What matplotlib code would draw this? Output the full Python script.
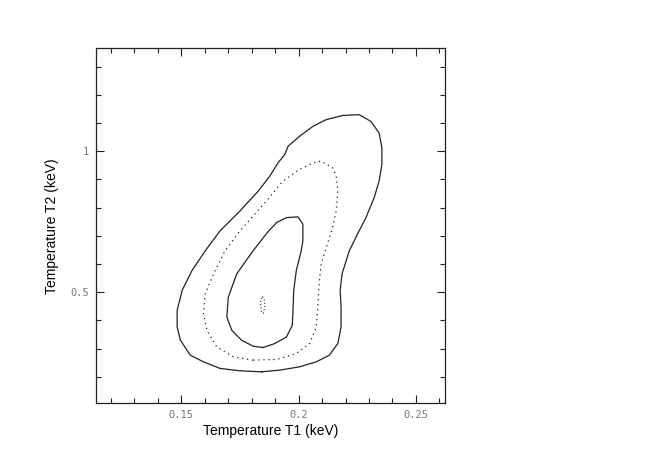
import numpy as np
import matplotlib.pyplot as plt
from matplotlib.ticker import MultipleLocator, FixedLocator, FixedFormatter

# confidence contours (T1, T2 in keV)
outer_t1 = [0.1842, 0.1750, 0.1665, 0.1594, 0.1538, 0.1496, 0.1482, 0.1482, 0.1503, 0.1545,
            0.1602, 0.1665, 0.1750, 0.1828, 0.1877, 0.1912, 0.1941, 0.1955, 0.2004, 0.2061,
            0.2117, 0.2188, 0.2258, 0.2308, 0.2343, 0.2355, 0.2355, 0.2343, 0.2322, 0.2287,
            0.2251, 0.2216, 0.2185, 0.2177, 0.2181, 0.2181, 0.2167, 0.2131, 0.2075, 0.2004,
            0.1920]
outer_t2 = [0.2177, 0.2212, 0.2297, 0.2530, 0.2766, 0.3296, 0.3765, 0.4354, 0.5060, 0.5766,
            0.6471, 0.7177, 0.7883, 0.8589, 0.9118, 0.9587, 0.9884, 1.0176, 1.0529, 1.0882,
            1.1119, 1.1270, 1.1295, 1.1059, 1.0646, 1.0116, 0.9531, 0.8941, 0.8352, 0.7646,
            0.7061, 0.6471, 0.5649, 0.5060, 0.4471, 0.3765, 0.3179, 0.2766, 0.2530, 0.2354,
            0.2237]

mid_t1 = [0.1806, 0.1722, 0.1651, 0.1609, 0.1594, 0.1602, 0.1637, 0.1686, 0.1750, 0.1863,
          0.1933, 0.2004, 0.2061, 0.2096, 0.2145, 0.2160, 0.2167, 0.2160, 0.2145, 0.2119,
          0.2096, 0.2086, 0.2082, 0.2075, 0.2047, 0.1990, 0.1906]
mid_t2 = [0.2590, 0.2706, 0.3059, 0.3649, 0.4238, 0.4944, 0.5649, 0.6471, 0.7177, 0.8236,
          0.8941, 0.9354, 0.9587, 0.9647, 0.9411, 0.9118, 0.8589, 0.7883, 0.7294, 0.6613,
          0.6002, 0.5176, 0.4471, 0.3765, 0.3179, 0.2826, 0.2615]

inner_t1 = [0.1849, 0.1806, 0.1757, 0.1715, 0.1694, 0.1700, 0.1736, 0.1806, 0.1869, 0.1906,
            0.1948, 0.1997, 0.2018, 0.2018, 0.2011, 0.1990, 0.1979, 0.1976, 0.1973, 0.1948,
            0.1898]
inner_t2 = [0.3038, 0.3084, 0.3296, 0.3649, 0.4118, 0.4824, 0.5649, 0.6471, 0.7142, 0.7470,
            0.7646, 0.7671, 0.7414, 0.6824, 0.6471, 0.5766, 0.5060, 0.4354, 0.3825, 0.3412,
            0.3179]

best_t1 = [0.1846, 0.1855, 0.1856, 0.1850, 0.1842, 0.1838, 0.1839]
best_t2 = [0.485, 0.470, 0.450, 0.425, 0.430, 0.455, 0.475]

xticks = [0.15, 0.2, 0.25]
xticklabels = ['0.15', '0.2', '0.25']
yticks = [0.5, 1.0]
yticklabels = ['0.5', '1']


def closed(a):
    return np.append(a, a[0])


fig = plt.figure(figsize=(6.56, 4.63), dpi=100)
ax = fig.add_axes([96/656, 1 - 403.3/463, 349/656, 355/463])

ax.plot(closed(outer_t1), closed(outer_t2), c='#222222', lw=0.9)
ax.plot(closed(mid_t1), closed(mid_t2), c='#222222', lw=0.9, ls=(0, (1, 3)))
ax.plot(closed(inner_t1), closed(inner_t2), c='#222222', lw=0.9)
ax.plot(closed(best_t1), closed(best_t2), c='#222222', lw=0.8, ls=(0, (1, 2)))

ax.set_xlim(0.1136, 0.2624)
ax.set_ylim(0.106, 1.365)

ax.xaxis.set_major_locator(FixedLocator(xticks))
ax.xaxis.set_major_formatter(FixedFormatter(xticklabels))
ax.xaxis.set_minor_locator(MultipleLocator(0.01))
ax.yaxis.set_major_locator(FixedLocator(yticks))
ax.yaxis.set_major_formatter(FixedFormatter(yticklabels))
ax.yaxis.set_minor_locator(MultipleLocator(0.1))

ax.tick_params(which='both', direction='in', top=True, right=True, color='#222222',
               labelcolor='#777777', labelsize=7.5, width=0.8)
ax.tick_params(which='major', length=6, pad=5)
ax.tick_params(which='minor', length=3.5)
for lab in ax.get_xticklabels() + ax.get_yticklabels():
    lab.set_family('DejaVu Sans Mono')

for sp in ax.spines.values():
    sp.set_linewidth(0.9)
    sp.set_color('#222222')

ax.set_xlabel('Temperature T1 (keV)', family='Liberation Sans', fontsize=10, labelpad=3)
ax.set_ylabel('Temperature T2 (keV)', family='Liberation Sans', fontsize=10, labelpad=8)

fig.savefig('out.png', dpi=100)
